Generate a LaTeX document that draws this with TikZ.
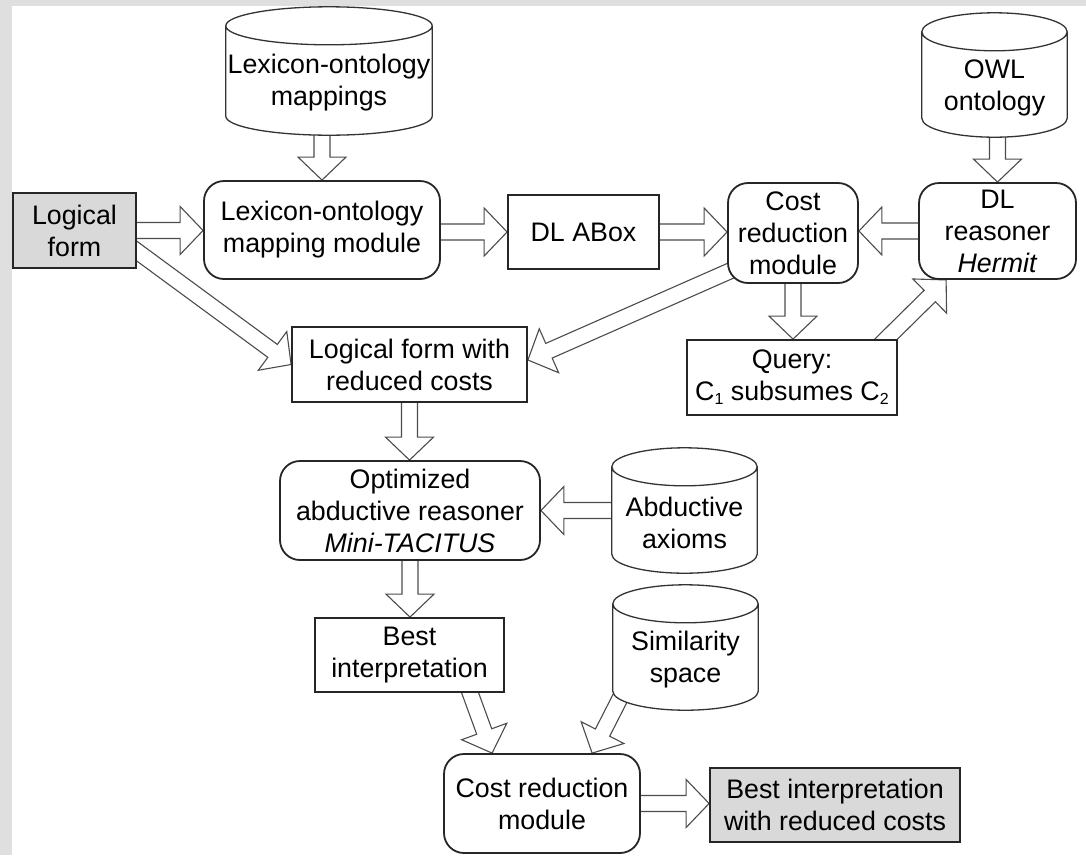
\documentclass[tikz,border=0pt]{standalone}
\usepackage{fontspec}
\setmainfont{Liberation Sans}
\usetikzlibrary{calc}
\pgfdeclarelayer{back}
\pgfdeclarelayer{background}
\pgfsetlayers{back,background,main}
\newcommand\fs{\fontsize{26.8}{32}\selectfont}
\newcommand\subs[1]{\raisebox{-4pt}{\fontsize{16}{16}\selectfont #1}}
\tikzset{
  box/.style={rectangle, draw=black!85, line width=1.8pt, fill=white, font=\fs, align=center, inner sep=0pt},
  rbox/.style={box, rounded corners=20pt},
  gbox/.style={box, fill=gray!30},
  dbbox/.style={rectangle, inner sep=0pt, draw=none},
  txt/.style={font=\fs, align=center, inner sep=0pt},
  cylline/.style={draw=black!80, line width=1.3pt, fill=white},
  barrowline/.style={draw=black!70, line width=1.1pt, line join=miter}
}
\newcommand\barrow[2]{%
  \begin{pgfonlayer}{background}
  \path (#1) coordinate (ba) (#2) coordinate (bb);
  \path ($(bb)!23pt!(ba)$) coordinate (bh);
  \draw[barrowline] ($(ba)!8pt!90:(bb)$) -- ($(bh)!8pt!90:(bb)$) -- ($(bh)!24pt!90:(bb)$) -- (bb)
     -- ($(bh)!24pt!-90:(bb)$) -- ($(bh)!8pt!-90:(bb)$) -- ($(ba)!8pt!-90:(bb)$);
  \end{pgfonlayer}}
\newcommand\drawcyl[1]{%
  \path[cylline] let \p1=(#1.north west), \p2=(#1.south east), \n1={(\x2-\x1)/2} in
   (\x1,\y1-19pt) -- (\x1,\y2+19pt) arc[start angle=180,end angle=360,x radius={\n1*1pt},y radius=19pt]
   -- (\x2,\y1-19pt) arc[start angle=0,end angle=180,x radius={\n1*1pt},y radius=19pt] -- cycle
   (\x1,\y1-19pt) arc[start angle=180,end angle=360,x radius={\n1*1pt},y radius=19pt];}
\begin{document}
\begin{tikzpicture}[x=1pt,y=-1pt]
\begin{pgfonlayer}{back}
  \fill[white] (0,0) rectangle (1086,855);
  \fill[gray!25] (0,0) rectangle (12,855);
  \fill[gray!25] (0,0) rectangle (1086,6);
\end{pgfonlayer}
\useasboundingbox (0,0) rectangle (1086,855);

\node[gbox, minimum width=123pt, minimum height=75pt] (lf) at (74.5,230.5) {Logical\\form};
\node[dbbox, minimum width=206pt, minimum height=128pt] (lexdb) at (329,71) {};
\drawcyl{lexdb}
\node[txt] (lexdbt) at ($(lexdb.center)+(0,12)$) {Lexicon-ontology\\mappings};
\node[rbox, minimum width=236pt, minimum height=98pt] (lexmod) at (322,230) {Lexicon-ontology\\mapping module};
\node[box, minimum width=151pt, minimum height=74pt] (abox) at (583.5,232) {DL ABox};
\node[rbox, minimum width=130pt, minimum height=100pt] (cost1) at (793,233) {Cost\\reduction\\module};
\node[dbbox, minimum width=145pt, minimum height=124pt] (owldb) at (994.5,75) {};
\drawcyl{owldb}
\node[txt] (owldbt) at ($(owldb.center)+(0,13)$) {OWL\\ontology};
\node[rbox, minimum width=157pt, minimum height=96pt] (dlr) at (997.5,231) {DL\\reasoner\\\textit{Hermit}};
\node[box, minimum width=210pt, minimum height=75pt] (query) at (792,377.5) {Query:\\C\subs{1} subsumes C\subs{2}};
\node[box, minimum width=235pt, minimum height=75pt] (lfr) at (409.5,364.5) {Logical form with\\reduced costs};
\node[rbox, minimum width=260pt, minimum height=99pt] (opt) at (410,510.5) {Optimized\\abductive reasoner\\\textit{Mini-TACITUS}};
\node[dbbox, minimum width=145pt, minimum height=125pt] (abddb) at (684.5,510.5) {};
\drawcyl{abddb}
\node[txt] (abddbt) at ($(abddb.center)+(0,12)$) {Abductive\\axioms};
\node[box, minimum width=189pt, minimum height=74pt] (best) at (409.5,655) {Best\\interpretation};
\node[dbbox, minimum width=145pt, minimum height=125pt] (simdb) at (685.5,647.5) {};
\drawcyl{simdb}
\node[txt] (simdbt) at ($(simdb.center)+(0,12)$) {Similarity\\space};
\node[rbox, minimum width=196pt, minimum height=99pt] (cost2) at (542,803.5) {Cost reduction\\module};
\node[gbox, minimum width=250pt, minimum height=74pt] (final) at (835,805) {Best interpretation\\with reduced costs};

\barrow{lexmod.north |- lexdb.south}{lexmod.north}
\barrow{lf.east}{lf.east -| lexmod.west}
\barrow{lexmod.east |- abox.west}{abox.west}
\barrow{abox.east}{abox.east -| cost1.west}
\barrow{dlr.north |- owldb.south}{dlr.north}
\barrow{dlr.west}{dlr.west -| cost1.east}
\barrow{cost1.south}{cost1.south |- query.north}
\barrow{$(query.north east)+(-26,14)$}{$(dlr.south west)+(28,0)$}
\barrow{$(lf.center)+(37,2)$}{lfr.west}
\barrow{$(cost1.center)+(-20,19)$}{$(lfr.east)+(0,-4.5)$}
\barrow{lfr.south}{lfr.south |- opt.north}
\barrow{abddb.west}{abddb.west -| opt.east}
\barrow{opt.south}{opt.south |- best.north}
\barrow{$(best.south)+(51.5,-25)$}{$(cost2.north west)+(49,0)$}
\barrow{$(simdb.south west)+(20,-37)$}{$(cost2.north west)+(149,0)$}
\barrow{cost2.east}{cost2.east -| final.west}
\end{tikzpicture}
\end{document}
